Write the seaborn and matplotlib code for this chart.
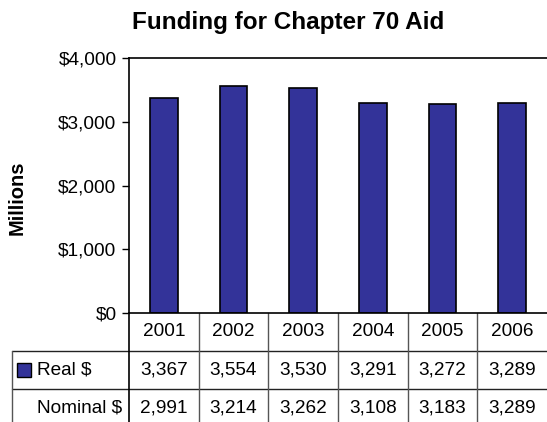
import matplotlib
matplotlib.use("Agg")
import matplotlib.pyplot as plt
import matplotlib.transforms as mtransforms
from matplotlib.patches import Rectangle
import seaborn as sns
import pandas as pd

# data
years = ["2001", "2002", "2003", "2004", "2005", "2006"]
real = [3367, 3554, 3530, 3291, 3272, 3289]
nominal = [2991, 3214, 3262, 3108, 3183, 3289]
row_labels = ["Real $", "Nominal $"]

df = pd.DataFrame({"year": years, "real": real})

sns.set_style("white")
plt.rcParams["font.family"] = ["Liberation Sans", "DejaVu Sans"]
plt.rcParams["text.color"] = "black"
plt.rcParams["ytick.color"] = "black"
plt.rcParams["ytick.labelcolor"] = "black"
fs = 13.7
bar_color = "#333399"

fig = plt.figure(figsize=(5.47, 4.22), dpi=100)
W, H = 547, 422
ax = fig.add_axes([129 / W, 1 - 313 / H, (547 - 129) / W, (313 - 58) / H])

sns.barplot(data=df, x="year", y="real", color=bar_color, width=0.4,
            edgecolor="black", linewidth=1.2, saturation=1, ax=ax)

ax.set_ylim(0, 4000)
ax.set_xlim(-0.5, 5.5)
ax.set_yticks([0, 1000, 2000, 3000, 4000])
ax.set_yticklabels(["$0", "$1,000", "$2,000", "$3,000", "$4,000"], fontsize=fs)
ax.tick_params(axis="y", length=5, width=1, color="black", direction="out", pad=4, left=True)
ax.set_xticks([])
ax.set_xlabel("")
ax.set_ylabel("")
for s in ["left", "top", "bottom"]:
    ax.spines[s].set_visible(True)
    ax.spines[s].set_color("black")
    ax.spines[s].set_linewidth(1.2)
ax.spines["right"].set_visible(False)

fig.text(288 / W, 1 - 22 / H, "Funding for Chapter 70 Aid", ha="center", va="center",
         fontsize=17.5, fontweight="bold")
fig.text(17 / W, 1 - 198 / H, "Millions", ha="center", va="center", rotation=90,
         fontsize=14.5, fontweight="bold")

# data table under the chart: x in data units, y in axes fraction
trans = mtransforms.blended_transform_factory(ax.transData, ax.transAxes)
row_h = 38 / 255
left_edge = (12 - 129) / (547 - 129)  # label column edge in axes fraction
line_kw = dict(clip_on=False, color="#555555", linewidth=1)

# horizontal lines
for k in [1, 2]:
    ax.plot([left_edge, 1], [-k * row_h, -k * row_h], transform=ax.transAxes,
            clip_on=False, color="#222222", linewidth=1)
# vertical lines
ax.plot([0, 0], [0, -3 * row_h], transform=ax.transAxes, clip_on=False,
        color="black", linewidth=1.2)
ax.plot([left_edge, left_edge], [-row_h, -3 * row_h], transform=ax.transAxes, **line_kw)
for i in range(1, len(years)):
    ax.plot([i - 0.5, i - 0.5], [0, -3 * row_h], transform=trans, **line_kw)

for i, yr in enumerate(years):
    ax.text(i, -0.5 * row_h, yr, transform=trans, ha="center", va="center", fontsize=fs)
    ax.text(i, -1.5 * row_h, f"{real[i]:,}", transform=trans, ha="center", va="center", fontsize=fs)
    ax.text(i, -2.5 * row_h, f"{nominal[i]:,}", transform=trans, ha="center", va="center", fontsize=fs)

label_x = (37 - 129) / (547 - 129)
ax.text(label_x, -1.5 * row_h, row_labels[0], transform=ax.transAxes, ha="left",
        va="center", fontsize=fs)
ax.text(label_x, -2.5 * row_h, row_labels[1], transform=ax.transAxes, ha="left",
        va="center", fontsize=fs)
key_w = 14 / (547 - 129)
key_h = 14 / 255
ax.add_patch(Rectangle(((17 - 129) / (547 - 129), -1.5 * row_h - key_h / 2), key_w, key_h,
                       transform=ax.transAxes, clip_on=False, facecolor=bar_color,
                       edgecolor="black", linewidth=1))

fig.savefig("out.png", dpi=100)
